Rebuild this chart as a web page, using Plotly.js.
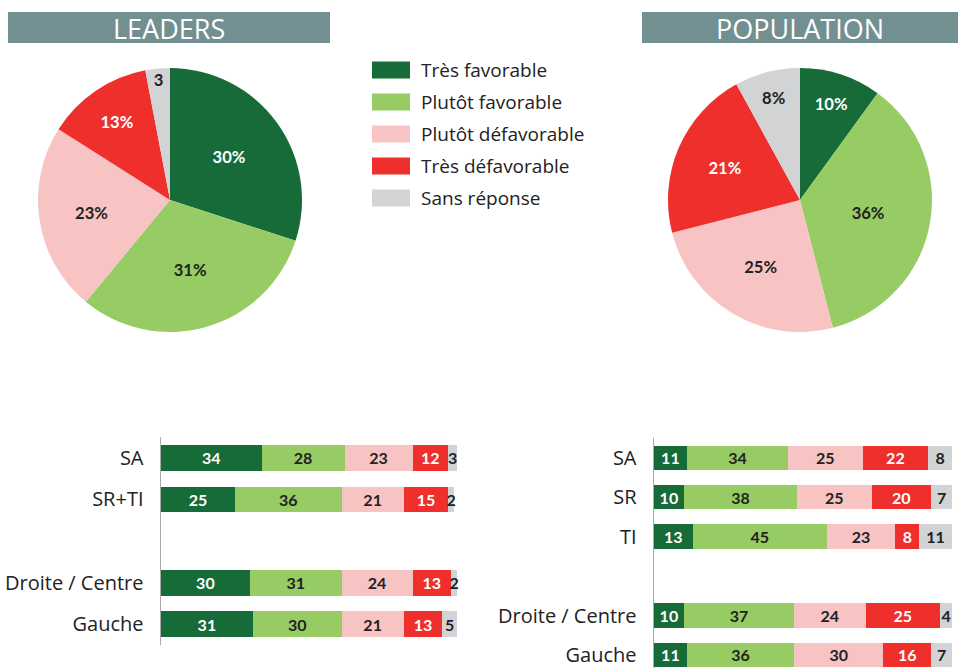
<!DOCTYPE html>
<html>
<head>
<meta charset="utf-8">
<script src="https://cdn.plot.ly/plotly-3.0.1.min.js"></script>
<style>html,body{margin:0;padding:0;background:#fff;}#chart{width:958px;height:668px;}</style>
</head>
<body>
<div id="chart"></div>
<script>
// ---- DATA ----
const categories = ['Très favorable', 'Plutôt favorable', 'Plutôt défavorable', 'Très défavorable', 'Sans réponse'];
const panelTitles = ['LEADERS', 'POPULATION'];

const leadersPie = [30, 31, 23, 13, 3];
const leadersPieLabels = ['30%', '31%', '23%', '13%', '3'];
const populationPie = [10, 36, 25, 21, 8];
const populationPieLabels = ['10%', '36%', '25%', '21%', '8%'];

const leadersGroups = ['SA', 'SR+TI', 'Droite / Centre', 'Gauche'];
const leadersTresFavorable = [34, 25, 30, 31];
const leadersPlutotFavorable = [28, 36, 31, 30];
const leadersPlutotDefavorable = [23, 21, 24, 21];
const leadersTresDefavorable = [12, 15, 13, 13];
const leadersSansReponse = [3, 2, 2, 5];

const populationGroups = ['SA', 'SR', 'TI', 'Droite / Centre', 'Gauche'];
const populationTresFavorable = [11, 10, 13, 10, 11];
const populationPlutotFavorable = [34, 38, 45, 37, 36];
const populationPlutotDefavorable = [25, 25, 23, 24, 30];
const populationTresDefavorable = [22, 20, 8, 25, 16];
const populationSansReponse = [8, 7, 11, 4, 7];

// ---- STYLE ----
const W = 958, H = 668;
const px = v => v / W;
const py = v => 1 - v / H;
const FONT = 'Lato, "Open Sans", sans-serif';
const FONT2 = '"Open Sans", Lato, sans-serif';
const colors = ['#176b38', '#97cb63', '#f7c3c3', '#ee2f2b', '#d1d3d5'];
const textColors = ['#ffffff', '#222222', '#222222', '#ffffff', '#222222'];
const SPACER = ' ';

const leadersSeries = [leadersTresFavorable, leadersPlutotFavorable, leadersPlutotDefavorable, leadersTresDefavorable, leadersSansReponse];
const populationSeries = [populationTresFavorable, populationPlutotFavorable, populationPlutotDefavorable, populationTresDefavorable, populationSansReponse];

const traces = [];

function pieTrace(values, labels, domainX) {
  return {
    type: 'pie', values: values, labels: categories, text: labels,
    textinfo: 'text', textposition: 'inside', insidetextorientation: 'horizontal',
    sort: false, direction: 'clockwise', rotation: 0,
    marker: {colors: colors, line: {width: 0}},
    textfont: {family: FONT, size: 17, color: textColors, weight: 'bold'},
    domain: {x: domainX, y: [py(332), py(68)]},
    showlegend: false, hoverinfo: 'label+value'
  };
}
traces.push(pieTrace(leadersPie, leadersPieLabels, [px(38), px(302)]));
traces.push(pieTrace(populationPie, populationPieLabels, [px(668), px(932)]));

categories.forEach((c, i) => {
  traces.push({
    type: 'bar', orientation: 'h', name: c, x: leadersSeries[i], y: leadersGroups,
    xaxis: 'x', yaxis: 'y', marker: {color: colors[i], line: {width: 0}},
    text: leadersSeries[i], textposition: 'inside', insidetextanchor: 'middle', textangle: 0,
    textfont: {family: FONT, size: 16, color: textColors[i], weight: 'bold'},
    showlegend: false, cliponaxis: false
  });
  traces.push({
    type: 'bar', orientation: 'h', name: c, x: populationSeries[i], y: populationGroups,
    xaxis: 'x2', yaxis: 'y2', marker: {color: colors[i], line: {width: 0}},
    text: populationSeries[i], textposition: 'inside', insidetextanchor: 'middle', textangle: 0,
    textfont: {family: FONT, size: 16, color: textColors[i], weight: 'bold'},
    showlegend: false, cliponaxis: false
  });
});

const shapes = [];
const annotations = [];

// Panel title boxes
[[8, 330], [642, 958]].forEach((r, i) => {
  shapes.push({type: 'rect', xref: 'paper', yref: 'paper', x0: px(r[0]), x1: px(r[1]), y0: py(43), y1: py(12),
    fillcolor: '#728f91', line: {width: 0}, layer: 'below'});
  annotations.push({xref: 'paper', yref: 'paper', x: px((r[0] + r[1]) / 2), y: py(28), text: panelTitles[i],
    showarrow: false, xanchor: 'center', yanchor: 'middle', font: {family: FONT2, size: 27, color: '#ffffff'}});
});

// Legend
categories.forEach((c, i) => {
  const yc = 70 + i * 32;
  shapes.push({type: 'rect', xref: 'paper', yref: 'paper', x0: px(372), x1: px(410), y0: py(yc + 8.5), y1: py(yc - 8.5),
    fillcolor: colors[i], line: {width: 0}});
  annotations.push({xref: 'paper', yref: 'paper', x: px(419), y: py(yc), text: c, showarrow: false,
    xanchor: 'left', yanchor: 'middle', font: {family: FONT2, size: 19, color: '#222222', weight: 500}});
});

const tickFont = {family: FONT2, size: 20, color: '#222222', weight: 500};

const layout = {
  width: W, height: H,
  margin: {l: 0, r: 0, t: 0, b: 0},
  paper_bgcolor: '#ffffff', plot_bgcolor: 'rgba(0,0,0,0)',
  barmode: 'stack', bargap: 0.38,
  uniformtext: {mode: 'show', minsize: 16},
  showlegend: false,
  font: {family: FONT, color: '#222222'},
  xaxis: {domain: [px(161), px(457)], range: [0, 100], visible: false, fixedrange: true},
  yaxis: {domain: [py(645), py(437)], type: 'category', categoryorder: 'array',
    categoryarray: [leadersGroups[0], leadersGroups[1], SPACER, leadersGroups[2], leadersGroups[3]],
    range: [4.5, -0.5], showgrid: false, zeroline: false, showline: true, linecolor: '#aaaaaa', linewidth: 1.5,
    ticks: 'outside', ticklen: 12, tickcolor: 'rgba(0,0,0,0)', tickfont: tickFont},
  xaxis2: {domain: [px(654), px(952)], range: [0, 100], visible: false, fixedrange: true, anchor: 'y2'},
  yaxis2: {domain: [0, py(438)], anchor: 'x2', type: 'category', categoryorder: 'array',
    categoryarray: [populationGroups[0], populationGroups[1], populationGroups[2], SPACER, populationGroups[3], populationGroups[4]],
    range: [5.33, -0.5], showgrid: false, zeroline: false, showline: true, linecolor: '#aaaaaa', linewidth: 1.5,
    ticks: 'outside', ticklen: 12, tickcolor: 'rgba(0,0,0,0)', tickfont: tickFont},
  shapes: shapes,
  annotations: annotations
};

Plotly.newPlot('chart', traces, layout, {displayModeBar: false, staticPlot: true});
</script>
</body>
</html>
